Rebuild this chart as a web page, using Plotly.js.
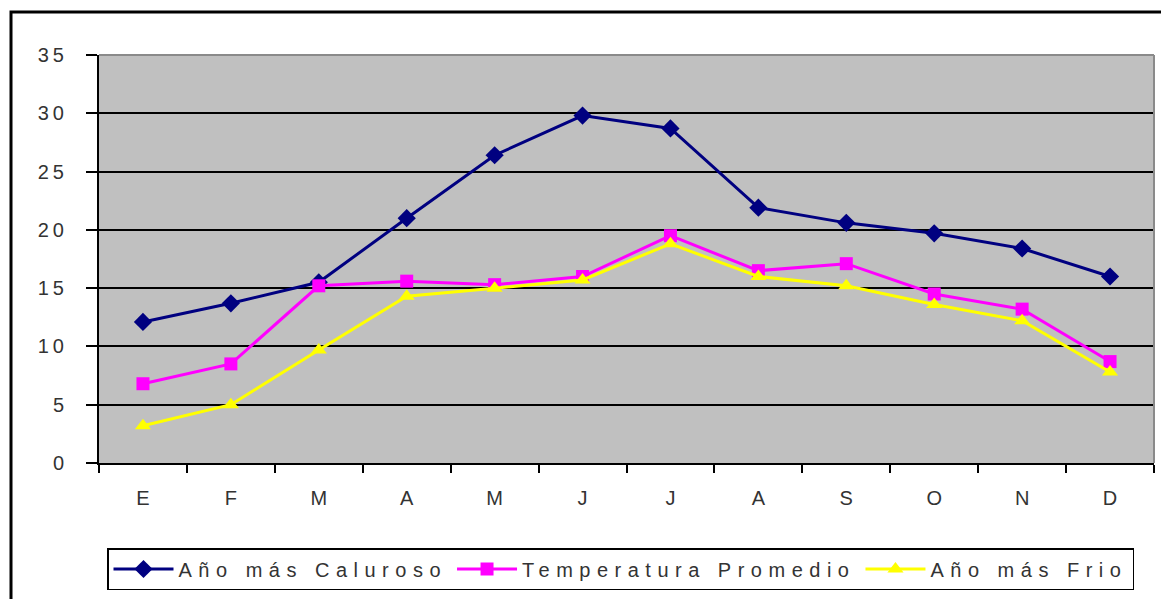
<!DOCTYPE html>
<html>
<head>
<meta charset="utf-8">
<script src="https://cdn.plot.ly/plotly-3.0.1.min.js"></script>
<style>
html, body { margin: 0; padding: 0; background: #fff; }
#chart { width: 1161px; height: 599px; }
.legendtext { letter-spacing: 6.5px; }
.ytick text { letter-spacing: 4px; }
</style>
</head>
<body>
<div id="chart"></div>
<script>
var months = ["E", "F", "M", "A", "M ", "J", "J ", "A ", "S", "O", "N", "D"];
var monthLabels = ["E", "F", "M", "A", "M", "J", "J", "A", "S", "O", "N", "D"];
var calurosoName = "Año más Caluroso";
var promedioName = "Temperatura Promedio";
var frioName = "Año más Frio";
var caluroso = [12.1, 13.7, 15.5, 21.0, 26.4, 29.8, 28.7, 21.9, 20.6, 19.7, 18.4, 16.0];
var promedio = [6.8, 8.5, 15.2, 15.6, 15.3, 16.0, 19.5, 16.5, 17.1, 14.5, 13.2, 8.7];
var frio = [3.2, 5.0, 9.7, 14.3, 15.0, 15.7, 18.8, 16.0, 15.2, 13.6, 12.2, 7.8];
var yTicks = [0, 5, 10, 15, 20, 25, 30, 35];

var FONT = 'Arial, "Liberation Sans", sans-serif';

var traces = [
  { x: months, y: caluroso, name: calurosoName, type: 'scatter', mode: 'lines+markers',
    line: { color: '#000080', width: 3 },
    marker: { symbol: 'diamond', size: 14, color: '#000080' } },
  { x: months, y: promedio, name: promedioName, type: 'scatter', mode: 'lines+markers',
    line: { color: '#FF00FF', width: 3 },
    marker: { symbol: 'square', size: 13, color: '#FF00FF' } },
  { x: months, y: frio, name: frioName, type: 'scatter', mode: 'lines+markers',
    line: { color: '#FFFF00', width: 3 },
    marker: { symbol: 'triangle-up', size: 14, color: '#FFFF00' } }
];

function px2x(p) { return (p - 99) / 1055; }
function px2y(p) { return (463 - p) / 408; }

var layout = {
  width: 1161, height: 599,
  margin: { l: 99, r: 7, t: 55, b: 136 },
  paper_bgcolor: '#ffffff',
  plot_bgcolor: '#C0C0C0',
  font: { family: FONT, size: 19, color: '#333' },
  showlegend: true,
  xaxis: {
    type: 'category',
    range: [-0.5, 11.5],
    tickmode: 'array', tickvals: months, ticktext: monthLabels,
    tickson: 'boundaries',
    ticks: 'outside', ticklen: 8, tickwidth: 2, tickcolor: '#000',
    showline: true, linecolor: '#000', linewidth: 2,
    showgrid: false, zeroline: false,
    ticklabelstandoff: 16,
    tickfont: { family: FONT, size: 20, color: '#333' },
    fixedrange: true
  },
  yaxis: {
    range: [0, 35],
    tickmode: 'array', tickvals: yTicks,
    ticks: 'outside', ticklen: 11, tickwidth: 2, tickcolor: '#000',
    showline: true, linecolor: '#000', linewidth: 2,
    showgrid: true, gridcolor: '#000', gridwidth: 2,
    zeroline: false,
    ticklabelstandoff: 14,
    tickfont: { family: FONT, size: 20, color: '#333' },
    fixedrange: true
  },
  legend: {
    orientation: 'h',
    x: px2x(107), xanchor: 'left',
    y: px2y(548), yanchor: 'top',
    bordercolor: '#000', borderwidth: 1.5,
    bgcolor: '#fff',
    font: { family: FONT, size: 20, color: '#333' },
    itemwidth: 60,
    traceorder: 'normal'
  },
  shapes: [
    { type: 'line', xref: 'paper', yref: 'paper', x0: 0, x1: 1, y0: 1, y1: 1,
      line: { color: '#8a8a8a', width: 2 } },
    { type: 'line', xref: 'paper', yref: 'paper', x0: 1, x1: 1, y0: 0, y1: 1,
      line: { color: '#8a8a8a', width: 2 } },
    { type: 'rect', xref: 'paper', yref: 'paper',
      x0: px2x(11), x1: px2x(1180), y0: px2y(620), y1: px2y(12),
      line: { color: '#000', width: 3 }, layer: 'above' }
  ]
};

Plotly.newPlot('chart', traces, layout, { displayModeBar: false, staticPlot: true });
</script>
</body>
</html>
